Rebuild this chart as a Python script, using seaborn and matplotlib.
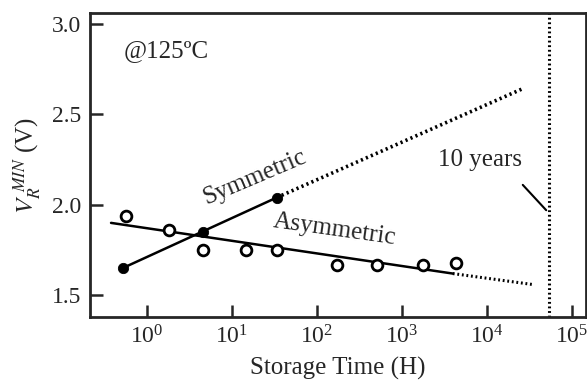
import matplotlib
matplotlib.use('Agg')
import matplotlib.pyplot as plt
import numpy as np
import pandas as pd
import seaborn as sns

# measured values (storage time in hours, V_R^MIN in volts)
sym_time = [0.52, 4.56, 33.8]
sym_v = [1.65, 1.85, 2.04]
asym_time = [0.57, 1.81, 4.56, 14.6, 33.8, 172, 508, 1770, 4300]
asym_v = [1.94, 1.86, 1.75, 1.75, 1.75, 1.67, 1.67, 1.67, 1.68]

# fitted trend lines: solid part and dotted extrapolation
sym_fit_time = [0.52, 33.8]
sym_fit_v = [1.65, 2.04]
sym_ext_time = [33.8, 2.6e4]
sym_ext_v = [2.04, 2.64]
asym_fit_time = [0.38, 3980]
asym_fit_v = [1.90, 1.62]
asym_ext_time = [3980, 3.4e4]
asym_ext_v = [1.62, 1.56]
ten_years = 5.4e4

sns.set_style('ticks')
plt.rcParams['font.family'] = ['Liberation Serif', 'DejaVu Serif']
plt.rcParams['mathtext.fontset'] = 'stix'

fig = plt.figure(figsize=(5.87, 3.81), dpi=100)
ax = fig.add_axes([0.153, 0.168, 0.845, 0.798])

sym_df = pd.DataFrame({'t': sym_time, 'v': sym_v})
asym_df = pd.DataFrame({'t': asym_time, 'v': asym_v})

sns.lineplot(x=sym_fit_time, y=sym_fit_v, color='black', lw=1.8, ax=ax)
sns.lineplot(x=sym_ext_time, y=sym_ext_v, color='black', lw=2.6, ax=ax, linestyle=(0, (0.6, 0.9)))
sns.lineplot(x=asym_fit_time, y=asym_fit_v, color='black', lw=1.8, ax=ax)
sns.lineplot(x=asym_ext_time, y=asym_ext_v, color='black', lw=2.2, ax=ax, linestyle=(0, (0.6, 0.9)))
ax.axvline(ten_years, color='black', lw=2.2, linestyle=(0, (0.6, 0.9)))

sns.scatterplot(data=asym_df, x='t', y='v', marker='o', s=60, facecolor='white',
                edgecolor='black', linewidth=2, ax=ax, zorder=5)
sns.scatterplot(data=sym_df, x='t', y='v', marker='o', s=55, color='black',
                edgecolor='black', ax=ax, zorder=6)

ax.set_xscale('log')
ax.set_xlim(10 ** -0.67, 10 ** 5.165)
ax.set_ylim(1.38, 3.06)
ax.set_xticks([1, 10, 100, 1000, 1e4, 1e5])
ax.xaxis.set_minor_locator(matplotlib.ticker.NullLocator())
ax.set_yticks([1.5, 2.0, 2.5, 3.0])
ax.set_yticklabels(['1.5', '2.0', '2.5', '3.0'])
ax.tick_params(direction='in', length=9, width=1.8, labelsize=17, pad=6)

for s in ax.spines.values():
    s.set_linewidth(2)

ax.set_xlabel('Storage Time (H)', fontsize=18, labelpad=6)
ax.set_ylabel(r'$V_R^{\ MIN}$ (V)', fontsize=18, labelpad=6)

ax.text(0.068, 0.855, '@125ºC', transform=ax.transAxes, fontsize=18)
ax.text(18.6, 2.15, 'Symmetric', fontsize=18, rotation=23, ha='center', va='center')
ax.text(162, 1.86, 'Asymmetric', fontsize=18, rotation=-8, ha='center', va='center')
ax.text(8300, 2.25, '10 years', fontsize=18, ha='center', va='center')
ax.plot([2.65e4, 5.0e4], [2.11, 1.97], color='black', lw=1.5)

fig.savefig('out.png', dpi=100)
